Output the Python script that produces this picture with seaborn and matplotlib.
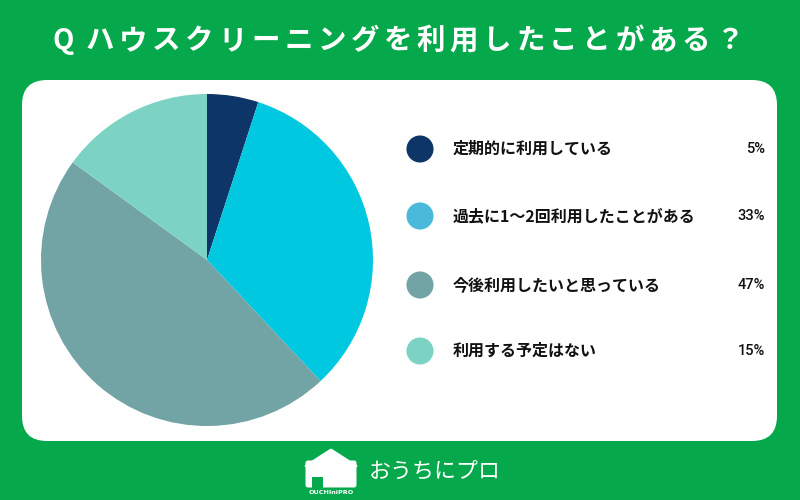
import matplotlib
matplotlib.use("Agg")
import matplotlib.pyplot as plt
import seaborn as sns
import pandas as pd
from matplotlib.patches import FancyBboxPatch, Polygon, Rectangle, Wedge

categories = ["定期的に利用している", "過去に1～2回利用したことがある", "今後利用したいと思っている", "利用する予定はない"]
values = [5, 33, 47, 15]
pct_labels = ["5%", "33%", "47%", "15%"]
slice_colors = ["#0d3568", "#00c8e0", "#72a3a5", "#7dd3c3"]
legend_colors = ["#0d3568", "#4ab8d8", "#72a3a5", "#7dd3c3"]
title_q = "Q"
title_body = "ハウスクリーニングを利用したことがある？"
brand = "おうちにプロ"

sns.set_theme(style="white")
plt.rcParams['font.family'] = ['Noto Sans CJK JP', 'DejaVu Sans']

GREEN = "#05a84a"
fig = plt.figure(figsize=(8, 5), dpi=100, facecolor=GREEN)

# background axes in pixel coordinates
bg = fig.add_axes([0, 0, 1, 1])
bg.set_xlim(0, 800)
bg.set_ylim(500, 0)
bg.axis("off")
bg.add_patch(FancyBboxPatch((22 + 25, 80 + 25), 755 - 50, 361 - 50,
                            boxstyle="round,pad=25", fc="white", ec="none"))

# title with letter spacing
bg.text(63, 41, title_q, color="white", fontsize=20, fontweight="bold",
        ha="center", va="center")
x0, pitch = 100, 33.1
for i, ch in enumerate(title_body):
    bg.text(x0 + i * pitch, 41, ch, color="white", fontsize=20.5, fontweight="bold",
            ha="center", va="center")

# footer logo
bg.add_patch(FancyBboxPatch((308, 463), 46, 22, boxstyle="round,pad=2.5",
                            fc="white", ec="none"))
bg.add_patch(Polygon([(306, 466), (331, 450), (356, 466)], closed=True,
                     fc="white", ec="white", lw=2, joinstyle="round"))
bg.add_patch(Rectangle((312, 477), 11, 11, fc=GREEN, ec="none"))
bg.add_patch(Wedge((317.5, 477), 5.5, 0, 180, fc=GREEN, ec="none"))
bg.text(331, 495, "OUCHIniPRO", color="white", fontsize=4.6, fontweight="bold",
        ha="center", va="bottom", family=['DejaVu Sans'])
bg.text(369, 472, brand, color="white", fontsize=15.8, ha="left", va="center")

# pie
pie_ax = fig.add_axes([(207 - 166) / 800, (500 - 260 - 166) / 500, 332 / 800, 332 / 500])
pie_ax.pie(values, colors=slice_colors, startangle=90, counterclock=False,
           radius=1, wedgeprops=dict(linewidth=0))
pie_ax.set_xlim(-1, 1)
pie_ax.set_ylim(-1, 1)
pie_ax.set_aspect("equal")
pie_ax.axis("off")

# legend drawn with seaborn scatter in pixel coordinates
leg_y = [149, 216, 285, 351]
leg_df = pd.DataFrame({"x": [420] * 4, "y": leg_y, "cat": categories})
leg_ax = fig.add_axes([0, 0, 1, 1])
leg_ax.set_xlim(0, 800)
leg_ax.set_ylim(500, 0)
leg_ax.axis("off")
leg_ax.patch.set_alpha(0)
sns.scatterplot(data=leg_df, x="x", y="y", hue="cat", palette=legend_colors,
                s=380, linewidth=0, legend=False, ax=leg_ax)
leg_ax.set_xlim(0, 800)
leg_ax.set_ylim(500, 0)
for y, cat, p in zip(leg_y, categories, pct_labels):
    leg_ax.text(453, y, cat, fontsize=11.5, fontweight="bold", color="#111111",
                ha="left", va="center")
    leg_ax.text(765, y, p, fontsize=10.5, color="#111111", ha="right", va="center",
                family=['Roboto', 'DejaVu Sans'], fontweight="medium")

fig.savefig("out.png", dpi=100, facecolor=GREEN)
